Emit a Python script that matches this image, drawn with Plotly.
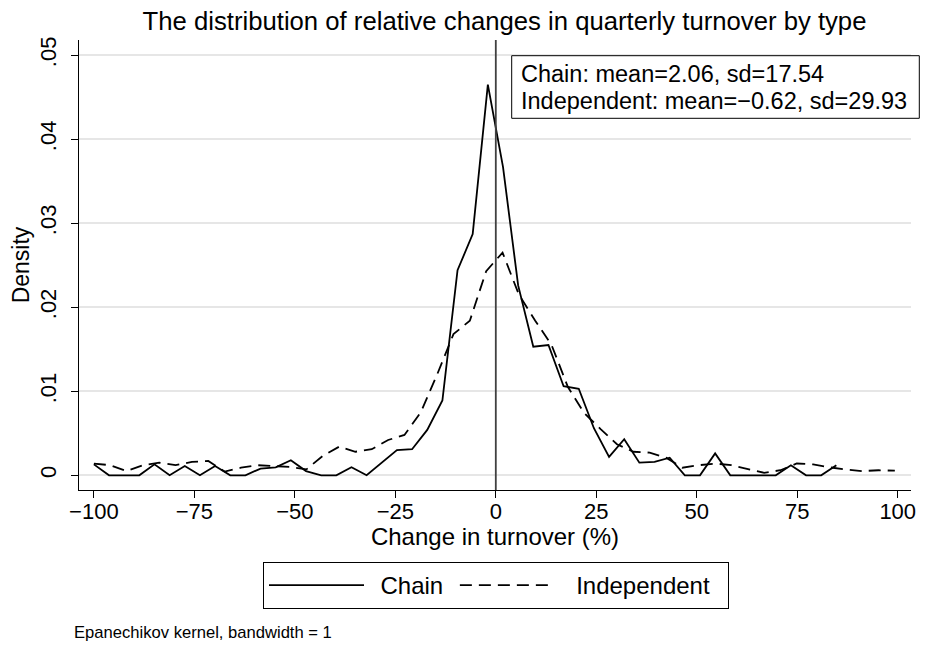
import plotly.graph_objects as go

# ---- data ----
chain_x = [-100.0, -96.23, -92.46, -88.69, -84.92, -81.15, -77.38, -73.61, -69.84, -66.07,
           -62.30, -58.53, -54.76, -50.99, -47.22, -43.45, -39.68, -35.91, -32.14, -28.37,
           -24.60, -20.83, -17.06, -13.29, -9.52, -5.75, -1.98, 1.79, 5.56, 9.33,
           13.10, 16.87, 20.64, 24.41, 28.18, 31.95, 35.72, 39.49, 43.26, 47.03,
           50.80, 54.57, 58.34, 62.11, 65.88, 69.65, 73.42, 77.19, 80.96, 84.73]
chain_y = [0.0013, 0.0, 0.0, 0.0, 0.0013, 0.0, 0.0011, 0.0, 0.0011, 0.0,
           0.0, 0.0008, 0.00095, 0.0018, 0.0005, 0.0, 0.0, 0.00095, 0.0, 0.0015,
           0.0030, 0.0031, 0.0054, 0.0089, 0.0244, 0.0287, 0.0465, 0.0367, 0.0226, 0.0153,
           0.0155, 0.0106, 0.0103, 0.0056, 0.0022, 0.0043, 0.0015, 0.0016, 0.0021, 0.0,
           0.0, 0.0026, 0.0, 0.0, 0.0, 0.0, 0.0012, 0.0, 0.0, 0.0012]

indep_x = [-100.0, -95.93, -91.87, -87.80, -83.73, -79.67, -75.60, -71.53, -67.46, -63.40,
           -59.33, -55.26, -51.20, -47.13, -43.06, -39.00, -34.93, -30.86, -26.79, -22.73,
           -18.66, -14.59, -10.53, -6.46, -2.39, 1.68, 5.74, 9.81, 13.88, 17.94,
           22.01, 26.08, 30.14, 34.21, 38.28, 42.35, 46.41, 50.48, 54.55, 58.61,
           62.68, 66.75, 70.81, 74.88, 78.95, 83.02, 87.08, 91.15, 95.22, 99.28]
indep_y = [0.0014, 0.0012, 0.0005, 0.0012, 0.0015, 0.0012, 0.0016, 0.0017, 0.00045, 0.0009,
           0.0012, 0.0011, 0.0010, 0.0007, 0.0023, 0.0034, 0.0028, 0.0031, 0.0042, 0.0048,
           0.0075, 0.0120, 0.0168, 0.0184, 0.0243, 0.0265, 0.0215, 0.0184, 0.0155, 0.0105,
           0.0074, 0.0055, 0.0037, 0.0028, 0.0027, 0.0021, 0.0009, 0.0012, 0.0014, 0.0012,
           0.00075, 0.0003, 0.0006, 0.0014, 0.0013, 0.00095, 0.0007, 0.0005, 0.0006, 0.00055]

x_ticks = [-100, -75, -50, -25, 0, 25, 50, 75, 100]
x_ticktext = ["\u2212100", "\u221275", "\u221250", "\u221225", "0", "25", "50", "75", "100"]
y_ticks = [0, 0.01, 0.02, 0.03, 0.04, 0.05]
y_ticktext = ["0", ".01", ".02", ".03", ".04", ".05"]

series_names = ["Chain", "Independent"]
stats_lines = ["Chain: mean=2.06, sd=17.54", "Independent: mean=\u22120.62, sd=29.93"]
title_text = "The distribution of relative changes in quarterly turnover by type"
note_text = "Epanechikov kernel, bandwidth = 1"

FONT = "Liberation Sans, Arial, Helvetica, sans-serif"
W, H = 927, 649
L, R, T, B = 79, 16, 40, 159
pw, ph = W - L - R, H - T - B

def px_x(px):
    return (px - L) / pw

def px_y(py):
    return (H - B - py) / ph

NB, TH = "\u00a0", "\u2009"

fig = go.Figure()
fig.add_trace(go.Scatter(x=chain_x, y=chain_y, mode="lines",
                         name=NB + TH + series_names[0] + NB,
                         line=dict(color="black", width=1.8)))
fig.add_trace(go.Scatter(x=indep_x, y=indep_y, mode="lines",
                         name=NB + TH + TH + series_names[1] + NB + NB,
                         line=dict(color="black", width=1.8, dash="12px,7px")))

fig.add_shape(type="line", xref="x", yref="paper", x0=0, x1=0, y0=0, y1=1,
              line=dict(color="#404040", width=1.8))

# stats box
fig.add_shape(type="rect", xref="paper", yref="paper",
              x0=px_x(511.7), x1=px_x(919.3), y0=px_y(118.3), y1=px_y(55.7),
              line=dict(color="black", width=1), fillcolor="white", layer="above")
for txt, cy in zip(stats_lines, [73.5, 101.0]):
    fig.add_annotation(text=txt, xref="paper", yref="paper", x=px_x(519), y=px_y(cy),
                       xanchor="left", yanchor="middle", showarrow=False,
                       font=dict(family=FONT, size=23.5, color="black"))

fig.add_annotation(text=note_text, xref="paper", yref="paper", x=px_x(72), y=px_y(632),
                   xanchor="left", yanchor="middle", showarrow=False,
                   font=dict(family=FONT, size=16.6, color="black"))

fig.update_layout(
    width=W, height=H,
    margin=dict(l=L, r=R, t=T, b=B),
    paper_bgcolor="white", plot_bgcolor="white",
    font=dict(family=FONT, color="black"),
    title=dict(text=title_text, x=504.5 / W, xref="container", xanchor="center",
               y=1 - 21 / H, yref="container", yanchor="middle",
               font=dict(family=FONT, size=25.7, color="black")),
    showlegend=True,
    legend=dict(orientation="h", x=px_x(263), xanchor="left", y=px_y(562), yanchor="top",
                bordercolor="black", borderwidth=1, font=dict(family=FONT, size=24),
                itemwidth=95, bgcolor="white"),
)
fig.update_xaxes(range=[-103.7, 103.3], tickmode="array", tickvals=x_ticks, ticktext=x_ticktext,
                 showline=True, linecolor="black", linewidth=1.2, ticks="outside", ticklen=7,
                 tickcolor="black", showgrid=False, zeroline=False, ticklabelstandoff=-6,
                 tickfont=dict(family=FONT, size=22),
                 title=dict(text="Change in turnover (%)", font=dict(family=FONT, size=24), standoff=4))
fig.update_yaxes(range=[-0.00175, 0.0518], tickmode="array", tickvals=y_ticks, ticktext=y_ticktext,
                 tickangle=-90, showline=True, linecolor="black", linewidth=1.2, ticks="outside",
                 ticklen=7, tickcolor="black", showgrid=True, gridcolor="#e6e6e6", gridwidth=1.5,
                 zeroline=False, ticklabelstandoff=6, tickfont=dict(family=FONT, size=22),
                 title=dict(text="Density", font=dict(family=FONT, size=23), standoff=0))

fig.write_html("out.html", config={"displayModeBar": False},
               post_script="document.body.style.margin='0';")
